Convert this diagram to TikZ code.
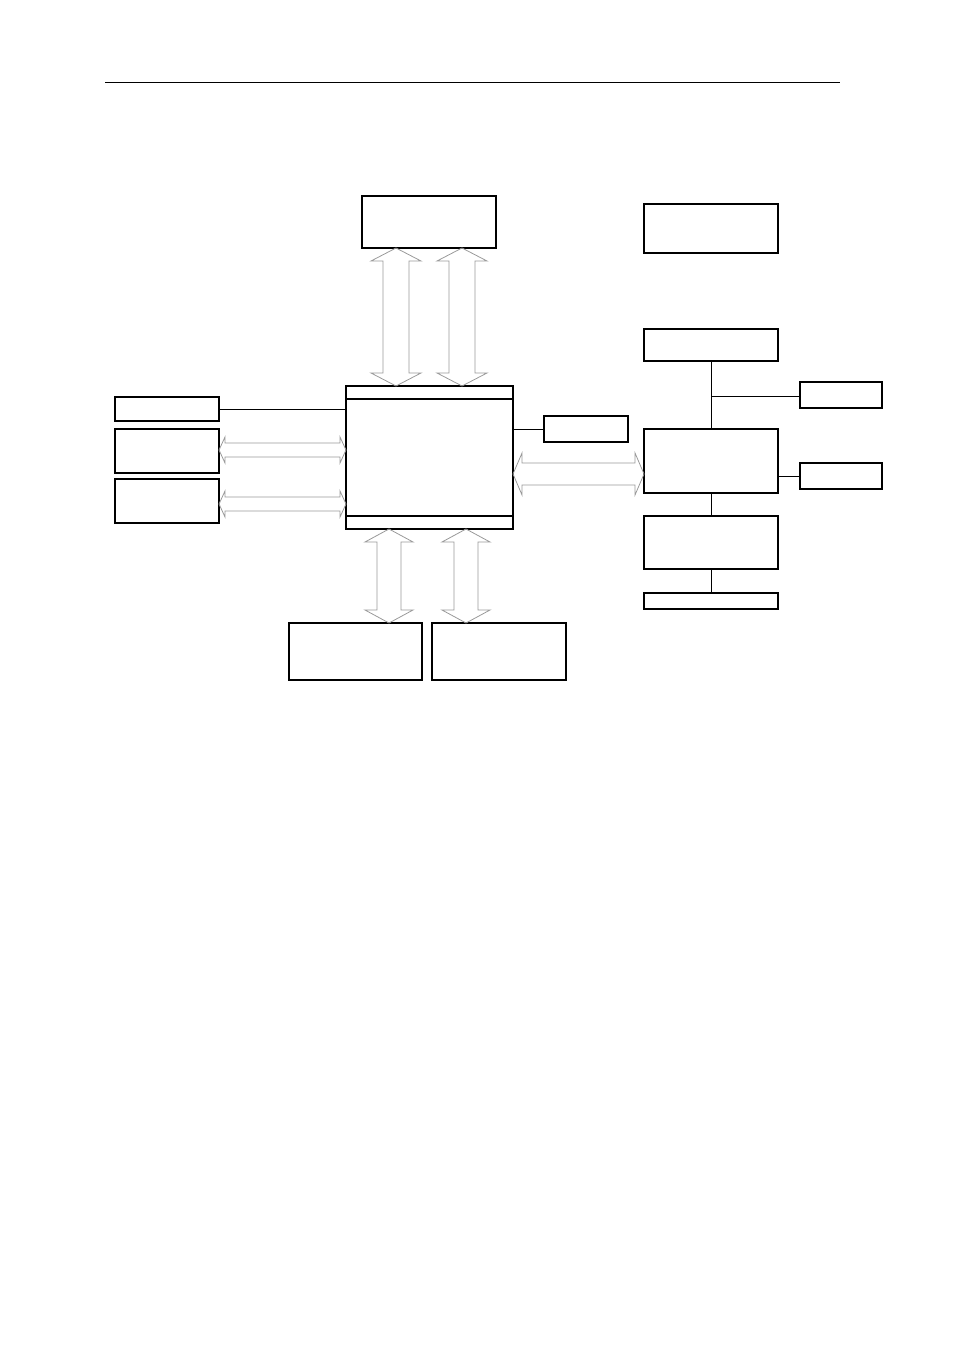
\documentclass[tikz,border=0pt]{standalone}
\tikzset{every picture/.style={line width=0.75pt}}
\tikzset{blk/.style={draw,line width=0.9pt}, bus/.style={draw=gray!80,line width=0.6pt}}
% horizontal double arrow: x1,x2,y,shaft half,head half,head length
\newcommand{\harrow}[6]{\draw[bus] (#1,#3) -- (#1+#6,#3-#5) -- (#1+#6,#3-#4) -- (#2-#6,#3-#4) -- (#2-#6,#3-#5) -- (#2,#3) -- (#2-#6,#3+#5) -- (#2-#6,#3+#4) -- (#1+#6,#3+#4) -- (#1+#6,#3+#5) -- cycle;}
% vertical double arrow: y1,y2,x,shaft half,head half,head length
\newcommand{\varrow}[6]{\draw[bus] (#3,#1) -- (#3-#5,#1+#6) -- (#3-#4,#1+#6) -- (#3-#4,#2-#6) -- (#3-#5,#2-#6) -- (#3,#2) -- (#3+#5,#2-#6) -- (#3+#4,#2-#6) -- (#3+#4,#1+#6) -- (#3+#5,#1+#6) -- cycle;}
\begin{document}
\begin{tikzpicture}[x=0.75pt,y=0.75pt,yscale=-1,xscale=1]
	\useasboundingbox (0,0) rectangle (954,1351);
	%header rule
	\draw[line width=0.6pt] (105,82) -- (840,82);
	%blocks
	\draw[blk] (362,196) rectangle (496,248);
	\draw[blk] (644,204) rectangle (778,253);
	\draw[blk] (644,329) rectangle (778,361);
	\draw[blk] (346,386) rectangle (513,529);
	\draw[blk] (346,399) -- (513,399) (346,516) -- (513,516);
	\draw[blk] (115,397) rectangle (219,421);
	\draw[blk] (115,429) rectangle (219,473);
	\draw[blk] (115,479) rectangle (219,523);
	\draw[blk] (544,416) rectangle (628,442);
	\draw[blk] (644,429) rectangle (778,493);
	\draw[blk] (800,382) rectangle (882,408);
	\draw[blk] (800,463) rectangle (882,489);
	\draw[blk] (644,516) rectangle (778,569);
	\draw[blk] (644,593) rectangle (778,609);
	\draw[blk] (289,623) rectangle (422,680);
	\draw[blk] (432,623) rectangle (566,680);
	%links
	\draw (219,409) -- (346,409);
	\draw (513,429) -- (544,429);
	\draw (711,361) -- (711,429);
	\draw (711,396) -- (800,396);
	\draw (778,476) -- (800,476);
	\draw (711,493) -- (711,516);
	\draw (711,569) -- (711,593);
	%buses
	\harrow{219}{346}{450}{7}{13}{6}
	\harrow{219}{346}{504}{7}{13}{6}
	\harrow{513}{644}{474}{11}{21}{9}
	\varrow{248}{386}{396}{13}{25}{13}
	\varrow{248}{386}{462}{13}{25}{13}
	\varrow{529}{623}{389}{12}{24}{13}
	\varrow{529}{623}{466}{12}{24}{13}
\end{tikzpicture}
\end{document}
